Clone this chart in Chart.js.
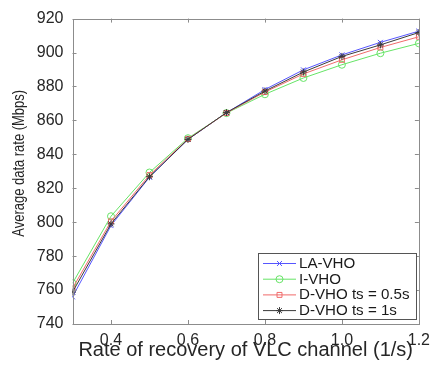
<!DOCTYPE html>
<html>
<head>
<meta charset="utf-8">
<script src="https://cdn.jsdelivr.net/npm/chart.js@4.4.1/dist/chart.umd.min.js"></script>
<style>
  html, body { margin: 0; padding: 0; background: #fff; }
  #wrap { width: 437px; height: 367px; }
</style>
</head>
<body>
<div id="wrap"><canvas id="myChart" width="437" height="367"></canvas></div>
<script>
// rate of recovery of VLC channel (1/s)
var rates = [0.3, 0.4, 0.5, 0.6, 0.7, 0.8, 0.9, 1.0, 1.1, 1.2];
var xTicks = [0.4, 0.6, 0.8, 1, 1.2];
var yTicks = [740, 760, 780, 800, 820, 840, 860, 880, 900, 920];

// average data rate (Mbps)
var laVho  = [756.0, 798.0, 826.5, 848.8, 864.5, 878.2, 889.8, 898.6, 906.0, 912.6];
var iVho   = [764.0, 803.5, 829.3, 849.5, 864.3, 875.4, 885.0, 892.8, 899.6, 905.4];
var dVho05 = [761.0, 800.5, 827.8, 849.0, 864.4, 876.7, 887.4, 895.7, 903.0, 909.3];
var dVho1  = [758.8, 799.0, 826.8, 848.8, 864.6, 877.3, 888.5, 897.7, 904.5, 911.8];

var seriesNames = ['LA-VHO', 'I-VHO', 'D-VHO ts = 0.5s', 'D-VHO ts = 1s'];
var yTitle = 'Average data rate (Mbps)';

var FONT = "'Liberation Sans', Arial, sans-serif";

function toPoints(ys) {
    return ys.map(function (y, i) { return { x: rates[i], y: y }; });
}

function makeSet(label, ys, color, style, radius, order) {
    return {
        label: label,
        data: toPoints(ys),
        borderColor: color,
        backgroundColor: 'rgba(0,0,0,0)',
        borderWidth: 1,
        pointStyle: style,
        pointRadius: radius,
        pointBorderWidth: 1,
        pointBorderColor: color,
        pointBackgroundColor: 'rgba(0,0,0,0)',
        tension: 0,
        order: order
    };
}

// MATLAB style box, inward ticks, condensed y title and legend inside the axes
var matlabBox = {
    id: 'matlabBox',
    afterDatasetsDraw: function (chart) {
        var ctx = chart.ctx;
        var a = chart.chartArea;
        var xs = chart.scales.x, ys = chart.scales.y;
        ctx.save();
        ctx.strokeStyle = '#8c8c8c';
        ctx.lineWidth = 1;
        ctx.beginPath();
        xTicks.forEach(function (t) {
            var px = Math.round(xs.getPixelForValue(t)) + 0.5;
            ctx.moveTo(px, a.bottom); ctx.lineTo(px, a.bottom - 4);
            ctx.moveTo(px, a.top); ctx.lineTo(px, a.top + 4);
        });
        yTicks.forEach(function (t) {
            var py = Math.round(ys.getPixelForValue(t)) + 0.5;
            ctx.moveTo(a.left, py); ctx.lineTo(a.left + 4, py);
            ctx.moveTo(a.right, py); ctx.lineTo(a.right - 4, py);
        });
        ctx.stroke();
        ctx.strokeRect(Math.round(a.left) + 0.5, Math.round(a.top) + 0.5,
            Math.round(a.right - a.left), Math.round(a.bottom - a.top));

        // y title, a bit condensed like the original
        ctx.save();
        ctx.translate(20, (a.top + a.bottom) / 2 - 8);
        ctx.rotate(-Math.PI / 2);
        ctx.scale(0.81, 1);
        ctx.font = '16px ' + FONT;
        ctx.fillStyle = '#262626';
        ctx.textAlign = 'center';
        ctx.textBaseline = 'middle';
        ctx.fillText(yTitle, 0, 0);
        ctx.restore();

        // legend
        var bx = 258, by = 253, bw = 158, bh = 66, rowH = 15.7;
        ctx.fillStyle = '#fff';
        ctx.fillRect(bx, by, bw, bh);
        ctx.strokeStyle = '#555';
        ctx.strokeRect(bx + 0.5, by + 0.5, bw, bh);
        ctx.textBaseline = 'middle';
        chart.data.datasets.forEach(function (ds, i) {
            var cy = by + 10 + i * rowH;
            ctx.strokeStyle = ds.borderColor;
            ctx.beginPath();
            ctx.moveTo(bx + 5, cy + 0.5); ctx.lineTo(bx + 38, cy + 0.5);
            ctx.stroke();
            ctx.fillStyle = 'rgba(0,0,0,0)';
            Chart.helpers.drawPoint(ctx, {
                pointStyle: ds.pointStyle, radius: ds.pointRadius, borderWidth: 1, rotation: 0
            }, bx + 21.5, cy + 0.5);
            ctx.save();
            ctx.translate(bx + 41, cy + 1);
            ctx.scale(1.08, 1);
            ctx.font = '14px ' + FONT;
            ctx.fillStyle = '#1a1a1a';
            ctx.fillText(ds.label, 0, 0);
            ctx.restore();
        });
        ctx.restore();
    }
};

var ctx = document.getElementById('myChart').getContext('2d');
var myChart = new Chart(ctx, {
    type: 'line',
    data: {
        datasets: [
            makeSet(seriesNames[0], laVho, '#5656ff', 'crossRot', 3.5, 4),
            makeSet(seriesNames[1], iVho, '#66e466', 'circle', 3.5, 3),
            makeSet(seriesNames[2], dVho05, '#f06a6a', 'rect', 3.5, 2),
            makeSet(seriesNames[3], dVho1, '#3a3a3a', 'star', 3.5, 1)
        ]
    },
    options: {
        responsive: false,
        animation: false,
        devicePixelRatio: 1,
        layout: { padding: { top: 15, right: 11, left: 0, bottom: 0 } },
        plugins: {
            legend: { display: false },
            tooltip: { enabled: false }
        },
        scales: {
            x: {
                type: 'linear',
                min: 0.3,
                max: 1.2,
                grid: { display: false, drawTicks: false },
                border: { display: false },
                afterBuildTicks: function (s) { s.ticks = xTicks.map(function (v) { return { value: v }; }); },
                afterFit: function (s) { s.height = 43; },
                ticks: {
                    padding: 7,
                    maxRotation: 0,
                    color: '#262626',
                    font: { family: FONT, size: 16 }
                },
                title: {
                    display: true,
                    text: 'Rate of recovery of VLC channel (1/s)',
                    color: '#262626',
                    font: { family: FONT, size: 20 },
                    padding: { top: 0, bottom: 5 }
                }
            },
            y: {
                min: 740,
                max: 920,
                grid: { display: false, drawTicks: false },
                border: { display: false },
                afterBuildTicks: function (s) { s.ticks = yTicks.map(function (v) { return { value: v }; }); },
                afterFit: function (s) { s.width = 72.5; },
                ticks: {
                    padding: 9,
                    color: '#262626',
                    font: { family: FONT, size: 16 }
                }
            }
        }
    },
    plugins: [matlabBox]
});
</script>
</body>
</html>
